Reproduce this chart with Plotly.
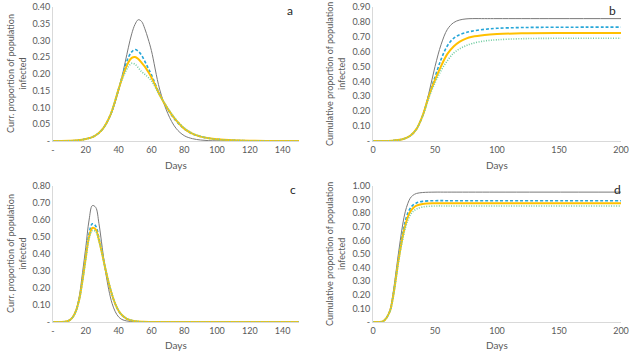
import plotly.graph_objects as go

# ---------------- Data ----------------
# Panel a: current proportion infected, scenario 1
a_days = [0, 5, 10, 15, 20, 25, 30, 35, 40, 42, 44, 46, 48, 50, 52, 54, 56, 58, 60, 65, 70, 75, 80, 85, 90, 95, 100, 110, 120, 130, 150]
a_black = [0, 0, 0.0005, 0.002, 0.006, 0.014, 0.033, 0.075, 0.15, 0.19, 0.235, 0.28, 0.32, 0.348, 0.362, 0.357, 0.335, 0.305, 0.27, 0.155, 0.082, 0.038, 0.016, 0.007, 0.003, 0.001, 0.0005, 0, 0, 0, 0]
a_blue = [0, 0, 0.0005, 0.002, 0.006, 0.014, 0.034, 0.078, 0.155, 0.19, 0.222, 0.25, 0.266, 0.273, 0.268, 0.256, 0.238, 0.218, 0.198, 0.14, 0.094, 0.06, 0.036, 0.021, 0.013, 0.008, 0.005, 0.002, 0.0007, 0.0002, 0]
a_yellow = [0, 0, 0.0005, 0.002, 0.006, 0.014, 0.034, 0.078, 0.155, 0.185, 0.213, 0.235, 0.248, 0.251, 0.245, 0.234, 0.222, 0.207, 0.19, 0.138, 0.096, 0.062, 0.037, 0.022, 0.013, 0.008, 0.005, 0.002, 0.0007, 0.0002, 0]
a_green = [0, 0, 0.0005, 0.002, 0.006, 0.014, 0.034, 0.078, 0.155, 0.183, 0.205, 0.222, 0.232, 0.229, 0.219, 0.207, 0.199, 0.19, 0.18, 0.137, 0.098, 0.064, 0.039, 0.023, 0.014, 0.008, 0.005, 0.002, 0.0007, 0.0002, 0]

# Panel b: cumulative proportion infected, scenario 1
b_days = [0, 10, 15, 20, 25, 30, 35, 40, 45, 50, 55, 60, 65, 70, 75, 80, 90, 100, 120, 150, 200]
b_black = [0, 0, 0.002, 0.006, 0.015, 0.035, 0.08, 0.17, 0.32, 0.5, 0.65, 0.75, 0.795, 0.813, 0.82, 0.822, 0.822, 0.822, 0.822, 0.822, 0.822]
b_blue = [0, 0, 0.002, 0.006, 0.015, 0.035, 0.08, 0.17, 0.305, 0.43, 0.55, 0.64, 0.69, 0.715, 0.728, 0.738, 0.75, 0.757, 0.762, 0.764, 0.765]
b_yellow = [0, 0, 0.002, 0.006, 0.015, 0.035, 0.08, 0.17, 0.3, 0.41, 0.505, 0.585, 0.635, 0.668, 0.688, 0.7, 0.712, 0.718, 0.723, 0.725, 0.725]
b_green = [0, 0, 0.002, 0.006, 0.015, 0.035, 0.08, 0.165, 0.29, 0.39, 0.475, 0.54, 0.59, 0.62, 0.64, 0.655, 0.672, 0.68, 0.687, 0.69, 0.69]

# Panel c: current proportion infected, scenario 2
c_days = [0, 5, 8, 10, 12, 14, 16, 18, 20, 22, 24, 26, 28, 30, 32, 34, 36, 38, 40, 42, 45, 50, 55, 60, 150]
c_black = [0, 0, 0.003, 0.01, 0.03, 0.07, 0.15, 0.29, 0.44, 0.6, 0.685, 0.675, 0.58, 0.44, 0.3, 0.19, 0.11, 0.06, 0.03, 0.015, 0.006, 0.001, 0, 0, 0]
c_blue = [0, 0, 0.003, 0.01, 0.028, 0.065, 0.135, 0.25, 0.39, 0.52, 0.578, 0.565, 0.495, 0.405, 0.31, 0.23, 0.16, 0.105, 0.065, 0.04, 0.018, 0.005, 0.001, 0, 0]
c_yellow = [0, 0, 0.003, 0.01, 0.028, 0.065, 0.133, 0.245, 0.38, 0.5, 0.553, 0.545, 0.483, 0.4, 0.31, 0.23, 0.16, 0.105, 0.066, 0.041, 0.019, 0.005, 0.001, 0, 0]
c_green = [0, 0, 0.003, 0.01, 0.028, 0.064, 0.13, 0.24, 0.37, 0.49, 0.538, 0.532, 0.477, 0.398, 0.31, 0.232, 0.163, 0.108, 0.068, 0.042, 0.02, 0.005, 0.001, 0, 0]

# Panel d: cumulative proportion infected, scenario 2
d_days = [0, 5, 8, 10, 12, 14, 16, 18, 20, 22, 24, 26, 28, 30, 32, 35, 40, 50, 60, 100, 200]
d_black = [0, 0, 0.005, 0.02, 0.05, 0.1, 0.2, 0.33, 0.47, 0.6, 0.72, 0.81, 0.87, 0.91, 0.93, 0.945, 0.952, 0.955, 0.955, 0.955, 0.955]
d_blue = [0, 0, 0.005, 0.02, 0.048, 0.09, 0.18, 0.3, 0.43, 0.55, 0.66, 0.74, 0.8, 0.835, 0.858, 0.875, 0.887, 0.892, 0.892, 0.892, 0.892]
d_yellow = [0, 0, 0.005, 0.02, 0.047, 0.088, 0.175, 0.29, 0.42, 0.53, 0.63, 0.71, 0.77, 0.81, 0.835, 0.855, 0.868, 0.873, 0.873, 0.873, 0.873]
d_green = [0, 0, 0.005, 0.02, 0.046, 0.086, 0.17, 0.285, 0.41, 0.52, 0.61, 0.69, 0.745, 0.785, 0.81, 0.83, 0.846, 0.853, 0.853, 0.853, 0.853]

# Tick labels
ac_xticks = [0, 20, 40, 60, 80, 100, 120, 140]
ac_xlabels = ["-", "20", "40", "60", "80", "100", "120", "140"]
bd_xticks = [0, 50, 100, 150, 200]
bd_xlabels = ["0", "50", "100", "150", "200"]
a_yticks = [0, 0.05, 0.10, 0.15, 0.20, 0.25, 0.30, 0.35, 0.40]
b_yticks = [0, 0.1, 0.2, 0.3, 0.4, 0.5, 0.6, 0.7, 0.8, 0.9]
c_yticks = [0, 0.1, 0.2, 0.3, 0.4, 0.5, 0.6, 0.7, 0.8]
d_yticks = [0, 0.1, 0.2, 0.3, 0.4, 0.5, 0.6, 0.7, 0.8, 0.9, 1.0]

def ylabels(vals):
    return ["-" if v == 0 else f"{v:.2f}" for v in vals]

# ---------------- Styles ----------------
W, H = 633, 353
FONT = "Lato, 'Open Sans', sans-serif"
TXT = "#595959"
AXL = "#d9d9d9"
S_BLACK = dict(color="#7a7a7a", width=1)
S_BLUE = dict(color="#26a6d8", width=1.6, dash="3px,2px")
S_YELLOW = dict(color="#ffc000", width=2)
S_GREEN = dict(color="#72cda2", width=1.6, dash="1px,1.5px")

def px_x(p):
    return max(0.0, min(1.0, p / W))

def px_y(p):
    return max(0.0, min(1.0, 1 - p / H))

panels = [
    dict(xa="x", ya="y", xd=(53, 299), yd=(7, 141), xr=[0, 150], yr=[0, 0.40], xt=ac_xticks, xl=ac_xlabels, yt=a_yticks,
         series=[(a_days, a_black, S_BLACK), (a_days, a_blue, S_BLUE), (a_days, a_yellow, S_YELLOW), (a_days, a_green, S_GREEN)]),
    dict(xa="x2", ya="y2", xd=(373, 621), yd=(7, 141), xr=[0, 200], yr=[0, 0.90], xt=bd_xticks, xl=bd_xlabels, yt=b_yticks,
         series=[(b_days, b_black, S_BLACK), (b_days, b_blue, S_BLUE), (b_days, b_yellow, S_YELLOW), (b_days, b_green, S_GREEN)]),
    dict(xa="x3", ya="y3", xd=(53, 299), yd=(186, 322), xr=[0, 150], yr=[0, 0.80], xt=ac_xticks, xl=ac_xlabels, yt=c_yticks,
         series=[(c_days, c_black, S_BLACK), (c_days, c_blue, S_BLUE), (c_days, c_yellow, S_YELLOW), (c_days, c_green, S_GREEN)]),
    dict(xa="x4", ya="y4", xd=(373, 621), yd=(186, 322), xr=[0, 200], yr=[0, 1.00], xt=bd_xticks, xl=bd_xlabels, yt=d_yticks,
         series=[(d_days, d_black, S_BLACK), (d_days, d_blue, S_BLUE), (d_days, d_yellow, S_YELLOW), (d_days, d_green, S_GREEN)]),
]

fig = go.Figure()
layout = dict(
    width=W, height=H, margin=dict(l=0, r=0, t=0, b=0),
    paper_bgcolor="white", plot_bgcolor="white", showlegend=False,
    font=dict(family=FONT, size=9, color=TXT),
)

for i, p in enumerate(panels):
    for xs, ys, st in p["series"]:
        fig.add_trace(go.Scatter(x=xs, y=ys, mode="lines", line=dict(shape="spline", smoothing=1.0, **st),
                                 xaxis=p["xa"], yaxis=p["ya"], hoverinfo="skip", cliponaxis=True))
    suffix = "" if i == 0 else str(i + 1)
    layout["xaxis" + suffix] = dict(
        domain=[px_x(p["xd"][0]), px_x(p["xd"][1])], range=p["xr"], anchor=p["ya"],
        tickvals=p["xt"], ticktext=p["xl"], showgrid=False, zeroline=False,
        showline=True, linecolor=AXL, linewidth=1, ticks="", ticklen=0,
        tickfont=dict(family=FONT, size=9, color=TXT), automargin=False,
        ticklabeloverflow="allow",
    )
    layout["yaxis" + suffix] = dict(
        domain=[px_y(p["yd"][1]), px_y(p["yd"][0])], range=p["yr"], anchor=p["xa"],
        tickvals=p["yt"], ticktext=ylabels(p["yt"]), showgrid=False, zeroline=False,
        showline=True, linecolor=AXL, linewidth=1, ticks="", ticklen=0,
        tickfont=dict(family=FONT, size=9, color=TXT), automargin=False,
        ticklabeloverflow="allow",
    )

fig.update_layout(**layout)

annotations = []
for cx, cy, txt in [
    (16, 74, "Curr. proportion of population<br>infected"),
    (335, 74, "Cumulative proportion of population<br>infected"),
    (16, 254, "Curr. proportion of population<br>infected"),
    (335, 254, "Cumulative proportion of population<br>infected"),
]:
    annotations.append(dict(x=px_x(cx), y=px_y(cy), xref="paper", yref="paper", text=txt, showarrow=False,
                            textangle=-90, xanchor="center", yanchor="middle",
                            font=dict(family=FONT, size=9, color=TXT)))
for cx, cy in [(176, 165), (497, 165), (176, 345), (497, 345)]:
    annotations.append(dict(x=px_x(cx), y=px_y(cy), xref="paper", yref="paper", text="Days", showarrow=False,
                            xanchor="center", yanchor="middle", font=dict(family=FONT, size=10, color=TXT)))
for cx, cy, t in [(290, 10, "a"), (612, 10, "b"), (293, 189, "c"), (617, 189, "d")]:
    annotations.append(dict(x=px_x(cx), y=px_y(cy), xref="paper", yref="paper", text=t, showarrow=False,
                            xanchor="center", yanchor="middle", font=dict(family=FONT, size=12, color="#262626")))
fig.update_layout(annotations=annotations)

# remove the page's default body margin so the figure sits at the window's top-left corner
fig.write_html("out.html", config={"displayModeBar": False},
               post_script="document.body.style.margin='0';document.body.style.overflow='hidden';")
